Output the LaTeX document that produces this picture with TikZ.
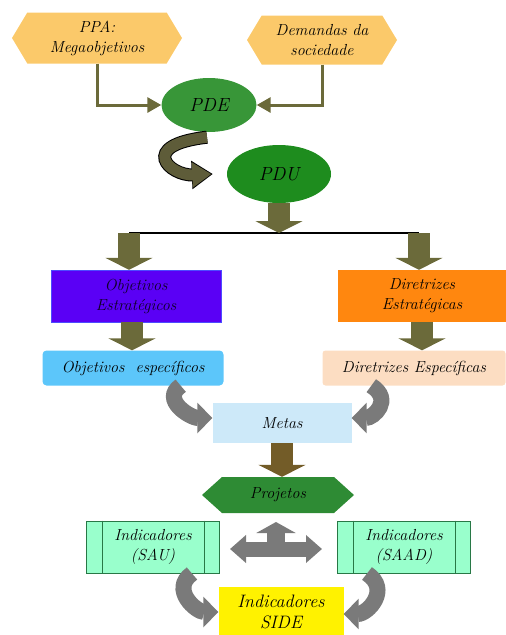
\documentclass[tikz,border=0pt]{standalone}
\usepackage{tikz}
\usetikzlibrary{shapes.geometric, shapes.symbols, arrows.meta}

\definecolor{hexlaranja}{RGB}{251,201,106}
\definecolor{oliva}{RGB}{107,106,58}
\definecolor{olivaesc}{RGB}{94,92,57}
\definecolor{verdepde}{RGB}{56,150,56}
\definecolor{verdepdu}{RGB}{30,140,30}
\definecolor{verdeproj}{RGB}{46,139,52}
\definecolor{roxo}{RGB}{90,0,245}
\definecolor{laranja}{RGB}{255,135,15}
\definecolor{azulclaro}{RGB}{92,198,250}
\definecolor{pessego}{RGB}{252,221,194}
\definecolor{azulmetas}{RGB}{205,233,249}
\definecolor{verdeagua}{RGB}{153,255,204}
\definecolor{verdeborda}{RGB}{40,120,70}
\definecolor{cinza}{RGB}{122,122,122}
\definecolor{marrom}{RGB}{115,92,40}

\begin{document}
\begin{tikzpicture}[
        x=1pt, y=-1pt,
        every node/.style={
          font=\fontsize{16}{20}\selectfont\itshape,
          align=center,
          inner sep=0pt
        },
        hexa/.style={
          signal,
          signal to=west and east,
          signal pointer angle=118,
          fill=hexlaranja
        },
        elipse/.style={
          ellipse,
          font=\fontsize{19}{22}\selectfont\itshape
        },
        caixa/.style={
          rectangle,
          minimum height=52pt
        },
        indicador/.style={
          rectangle,
          draw=verdeborda,
          line width=1pt,
          fill=verdeagua,
          minimum width=133pt,
          minimum height=52pt
        },
        conector/.style={
          draw=oliva,
          line width=3pt,
          -{Triangle[length=14pt, width=15pt]}
        },
        setaolv/.style={
          draw=oliva,
          line width=22pt,
          -{Triangle[length=12pt, width=47pt]}
        },
        setacinza/.style={
          draw=cinza,
          line width=16pt,
          -{Triangle[length=15pt, width=30pt]}
        }
      ]

      \useasboundingbox (0,0) rectangle (506,635);

      % Entradas
      \node[hexa, minimum width=170pt, minimum height=51pt] (ppa) at (97,38) {PPA:\\Megaobjetivos};
      \node[hexa, minimum width=150pt, minimum height=49pt] (dem) at (322,40) {Demandas da\\sociedade};

      % Planos
      \node[elipse, fill=verdepde, minimum width=95pt, minimum height=54pt] (pde) at (209,105) {PDE};
      \node[elipse, fill=verdepdu, minimum width=104pt, minimum height=58pt] (pdu) at (279,174) {PDU};

      % Estrategias
      \node[caixa, fill=roxo, draw=blue!70!white, text=black!85!roxo, minimum width=170pt] (objest) at (136,296) {Objetivos\\Estratégicos};
      \node[caixa, fill=laranja, minimum width=168pt] (direst) at (422,296) {Diretrizes\\Estratégicas};
      \node[rectangle, rounded corners=4pt, fill=azulclaro, minimum width=181pt, minimum height=35pt] (objesp) at (133,368) {Objetivos\ \ específicos};
      \node[rectangle, rounded corners=3pt, fill=pessego, minimum width=183pt, minimum height=35pt] (diresp) at (414,368) {Diretrizes Específicas};

      % Metas e projetos
      \node[rectangle, fill=azulmetas, minimum width=139pt, minimum height=40pt] (metas) at (282,423) {Metas};
      \node[hexa, signal pointer angle=84, fill=verdeproj, minimum width=152pt, minimum height=36pt] (proj) at (278,495) {Projetos};

      % Indicadores
      \node[indicador] (sau) at (153,547) {Indicadores\\(SAU)};
      \node[indicador] (saad) at (404,547) {Indicadores\\(SAAD)};
      \node[rectangle, fill=yellow, minimum width=125pt, minimum height=50pt, font=\fontsize{18}{21}\selectfont\itshape] (side) at (281,612) {Indicadores\\SIDE};

      \foreach \n in {sau, saad} {
        \draw[verdeborda, line width=1pt] ([xshift=16pt]\n.north west) -- ([xshift=16pt]\n.south west);
        \draw[verdeborda, line width=1pt] ([xshift=-16pt]\n.north east) -- ([xshift=-16pt]\n.south east);
      }

      % Conexoes
      \draw[conector] (ppa.south) |- (pde.west);
      \draw[conector] (dem.south) |- (pde.east);

      \draw[black, line width=13pt, -{Triangle[length=21pt, width=27pt]}]
        ([xshift=-2pt,yshift=-5pt]pde.south) .. controls +(-70,8) and +(-43,2) .. ([xshift=-14pt]pdu.west);
      \draw[olivaesc, line width=11pt, shorten >=1.5pt, -{Triangle[length=19pt, width=24pt]}]
        ([xshift=-2pt,yshift=-5pt]pde.south) .. controls +(-70,8) and +(-43,2) .. ([xshift=-14pt]pdu.west);

      \coordinate (juncao) at (279,233);
      \coordinate (jesq) at (129,233);
      \coordinate (jdir) at (419,233);
      \draw[black, line width=1.3pt] (jesq) -- (jdir);
      \draw[setaolv] (pdu.south) -- (juncao);
      \draw[setaolv] (jesq) -- (jesq |- objest.north);
      \draw[setaolv] (jdir) -- (jdir |- direst.north);
      \draw[setaolv] ([xshift=-4pt]objest.south) -- ([xshift=-4pt]objest.south |- objesp.north);
      \draw[setaolv] (direst.south) -- (direst.south |- diresp.north);

      \draw[setacinza] ([xshift=-43pt]objesp.south east) .. controls +(-20,14) and +(-22,0) .. ([yshift=5pt]metas.west);
      \draw[setacinza] ([xshift=49pt]diresp.south west) .. controls +(22,14) and +(22,0) .. ([yshift=5pt]metas.east);

      \draw[setaolv, draw=marrom] (metas.south) -- (metas.south |- proj.north);

      % Seta tripla
      \coordinate (hub) at (276,549);
      \draw[draw=cinza, line width=15pt, {Triangle[length=16pt, width=27pt]}-{Triangle[length=16pt, width=27pt]}]
        ([xshift=-46pt]hub) -- ([xshift=46pt]hub);
      \draw[draw=cinza, line width=18pt, -{Triangle[length=11pt, width=39pt]}]
        (hub) -- ([yshift=27pt]hub);

      \draw[setacinza] ([xshift=-28pt]sau.south east) .. controls +(-22,16) and +(-22,0) .. (side.west);
      \draw[setacinza] ([xshift=30pt]saad.south west) .. controls +(24,16) and +(24,0) .. ([yshift=-2pt]side.east);

    \end{tikzpicture}
\end{document}
